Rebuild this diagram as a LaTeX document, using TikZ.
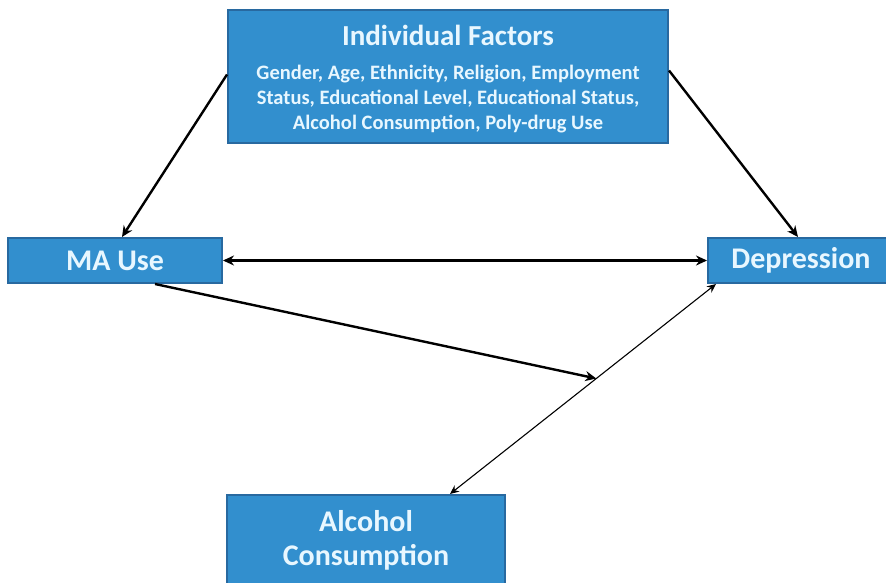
\documentclass[tikz,border=0pt]{standalone}
\usepackage{fontspec}
\setmainfont{Carlito}
\usetikzlibrary{arrows.meta,calc}
\definecolor{boxfill}{RGB}{50,143,206}
\definecolor{boxline}{RGB}{40,105,160}
\definecolor{boxtext}{RGB}{232,247,255}
\tikzset{
  factorbox/.style={draw=boxline, line width=2pt, fill=boxfill, text=boxtext,
    font=\bfseries, align=center, inner sep=0pt},
  bigtext/.style={font=\bfseries\fontsize{30}{34}\selectfont},
  thickarrow/.style={line width=2.4pt, -{Stealth[length=11pt,width=10pt]}},
  thickdouble/.style={line width=2.4pt, {Stealth[length=11pt,width=10pt]}-{Stealth[length=11pt,width=10pt]}},
  thinDouble/.style={line width=1.1pt, {Stealth[length=9pt,width=8pt]}-{Stealth[length=9pt,width=8pt]}},
}
\begin{document}
\begin{tikzpicture}[x=1pt,y=-1pt]
\useasboundingbox (0,0) rectangle (886,583);
\fill[white] (0,0) rectangle (886,583);

\node[factorbox, minimum width=440pt, minimum height=133pt] (top) at (448,76.5) {};
\node[text=boxtext, align=center, inner sep=0pt, font=\bfseries\fontsize{20.5}{25}\selectfont] (toptext) at ([yshift=-3pt]top.center)
  {{\fontsize{29}{30}\selectfont Individual Factors}\\[9pt]
   Gender, Age, Ethnicity, Religion, Employment\\
   Status, Educational Level, Educational Status,\\
   Alcohol Consumption, Poly-drug Use};

\node[factorbox, minimum width=214pt, minimum height=45pt, bigtext] (ma) at (115,260.5) {MA Use};

\node[factorbox, minimum width=180pt, minimum height=45pt, bigtext] (dep) at (798,260.5) {\hspace*{6pt}Depression};

\node[factorbox, minimum width=278pt, minimum height=91pt, bigtext] (alc) at (366,540.5) {Alcohol\\Consumption};

\draw[thickarrow] ([yshift=2pt]top.west) -- ([xshift=7pt]ma.north);
\draw[thickarrow] ([yshift=6pt]top.east) -- (dep.north);
\draw[thickdouble] (ma.east) -- (dep.west);
\draw[thinDouble] ([xshift=84pt]alc.north) -- coordinate[pos=0.55] (m) ([xshift=9pt]dep.south west);
\draw[thickarrow] ([xshift=40pt]ma.south) -- (m);
\end{tikzpicture}
\end{document}
